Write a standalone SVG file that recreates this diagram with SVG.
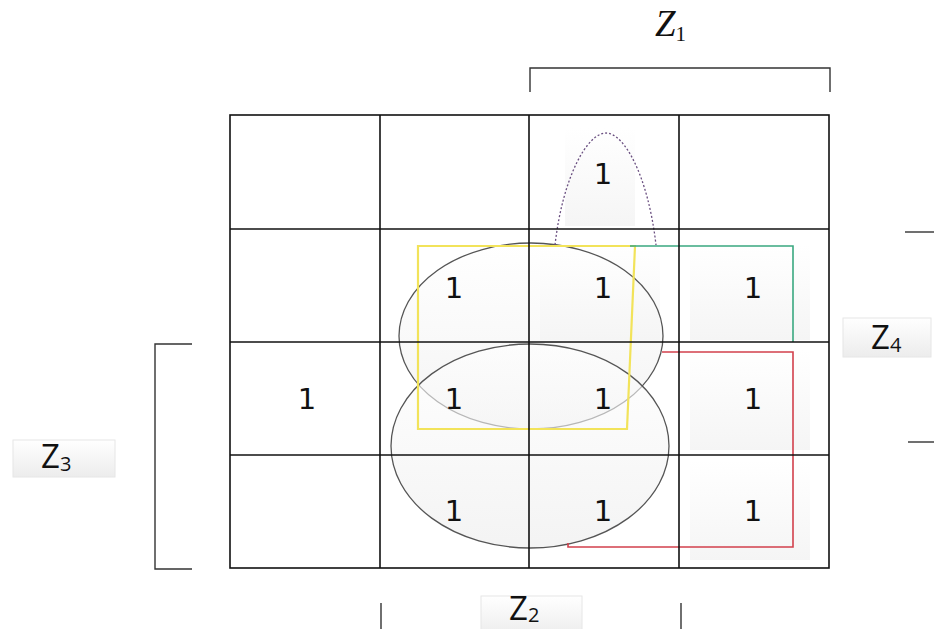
<svg xmlns="http://www.w3.org/2000/svg" width="934" height="629" viewBox="0 0 934 629">
<defs>
<linearGradient id="g" x1="0" y1="0" x2="0" y2="1"><stop offset="0" stop-color="#ffffff"/><stop offset="1" stop-color="#ececec"/></linearGradient>
<linearGradient id="cg" x1="0" y1="0" x2="0" y2="1"><stop offset="0" stop-color="#ffffff"/><stop offset="1" stop-color="#f5f5f5"/></linearGradient>
<style>
.grid{stroke:#111;stroke-width:1.6;fill:none}
.br{stroke:#333;stroke-width:1.4;fill:none}
.one{font-family:"DejaVu Sans",sans-serif;font-size:29px;fill:#111;text-anchor:middle}
.lab{font-family:"Open Sans","DejaVu Sans",sans-serif;font-size:33px;fill:#111}
.sub{font-size:20px}
.box{fill:url(#g);stroke:#e6e6e6;stroke-width:1}
.cell{fill:url(#cg);stroke:none}
.ell{fill:url(#g);fill-opacity:0.6;stroke:#555;stroke-width:1.3}
</style>
</defs>
<rect width="934" height="629" fill="#fff"/>
<g id="cells">
<rect class="cell" x="565" y="128" width="70" height="98"/>
<rect class="cell" x="690" y="245" width="120" height="95"/>
<rect class="cell" x="690" y="350" width="120" height="100"/>
<rect class="cell" x="690" y="460" width="120" height="100"/>
<rect class="cell" x="540" y="245" width="120" height="95"/>
</g>
<g id="groups">
<ellipse id="ell-upper" class="ell" cx="531" cy="336" rx="132" ry="93"/>
<ellipse id="ell-lower" class="ell" cx="530" cy="446" rx="139" ry="102"/>
<polygon id="yellow" points="418,246 635,246 627,429 418,429" fill="none" stroke="#f2e35a" stroke-width="2.2"/>
<polyline id="green" points="630,246 793,246 793,342" fill="none" stroke="#3aa880" stroke-width="1.6"/>
<polyline id="red" points="662,352 793,352 793,547 568,547 568,543" fill="none" stroke="#d2404c" stroke-width="1.6"/>
<path id="purple" d="M555,245 C563,175 588,133 606,133 C624,133 648,175 656,245" fill="none" stroke="#6a4f80" stroke-width="1.3" stroke-dasharray="2,2"/>
</g>
<g id="grid">
<rect class="grid" x="230" y="115" width="599" height="453"/>
<line class="grid" x1="380" y1="115" x2="380" y2="568"/>
<line class="grid" x1="529" y1="115" x2="529" y2="568"/>
<line class="grid" x1="679" y1="115" x2="679" y2="568"/>
<line class="grid" x1="230" y1="229" x2="829" y2="229"/>
<line class="grid" x1="230" y1="342" x2="829" y2="342"/>
<line class="grid" x1="230" y1="455" x2="829" y2="455"/>
</g>
<g id="ones">
<text class="one" x="603" y="184">1</text>
<text class="one" x="454" y="298">1</text>
<text class="one" x="603" y="298">1</text>
<text class="one" x="753" y="298">1</text>
<text class="one" x="307" y="409">1</text>
<text class="one" x="454" y="409">1</text>
<text class="one" x="603" y="409">1</text>
<text class="one" x="753" y="409">1</text>
<text class="one" x="454" y="521">1</text>
<text class="one" x="603" y="521">1</text>
<text class="one" x="753" y="521">1</text>
</g>
<g id="z1">
<text x="655" y="36" font-family="Liberation Serif, serif" font-style="italic" font-size="37" fill="#111">Z<tspan font-style="normal" font-size="21" dy="5">1</tspan></text>
<polyline class="br" points="530,92 530,68 830,68 830,92"/>
</g>
<g id="z2">
<polyline class="br" points="381,603 381,629"/>
<polyline class="br" points="681,603 681,629"/>
<rect class="box" x="481" y="596" width="101" height="40"/>
<text class="lab" x="509" y="620">Z<tspan class="sub" dy="2">2</tspan></text>
</g>
<g id="z3">
<polyline class="br" points="192,344 155,344 155,569 192,569"/>
<rect class="box" x="13" y="440" width="102" height="37"/>
<text class="lab" x="41" y="468">Z<tspan class="sub" dy="3">3</tspan></text>
</g>
<g id="z4">
<polyline class="br" points="905,232 934,232"/>
<polyline class="br" points="908,442 934,442"/>
<rect class="box" x="843" y="318" width="88" height="39"/>
<text class="lab" x="871" y="349">Z<tspan class="sub" dy="3">4</tspan></text>
</g>
</svg>
